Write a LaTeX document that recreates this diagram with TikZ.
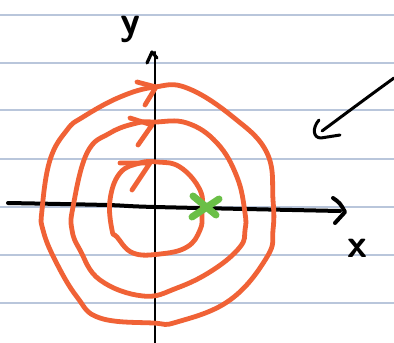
\documentclass[tikz,border=0pt]{standalone}
\begin{document}
\begin{tikzpicture}[x=1pt,y=-1pt,
  rule/.style={draw=ruleblue,line width=1.6pt},
  orbit/.style={draw=orbitred,line width=4.8pt,line cap=round,line join=round},
  ink/.style={draw=black,line cap=round,line join=round},
  lbl/.style={font=\fontsize{40}{40}\selectfont\bfseries\sffamily,inner sep=0pt,anchor=base}]
\definecolor{ruleblue}{HTML}{B9C6DB}
\definecolor{orbitred}{HTML}{F06236}
\definecolor{markgreen}{HTML}{6ABF47}
\fill[white] (0,0) rectangle (394,343);
\useasboundingbox (0,0) rectangle (394,343);
% ruled lines
\foreach \yy in {15,63,110,159,207,255,303} \draw[rule] (0,\yy) -- (394,\yy);
% axes
\draw[ink,line width=2.6pt] (155,343) -- (155,52);
\draw[ink,line width=3.2pt] (147,63) -- (152,52) -- (157,58);
\draw[ink,line width=4pt] plot[smooth,tension=0.5] coordinates {(8,203) (107,205) (155,207) (340,211)};
\draw[ink,line width=4pt] (333,198) .. controls (340,203) .. (345,212) .. controls (340,218) .. (335,223);
% orbits
\draw[orbit] plot[smooth cycle,tension=0.7] coordinates {(155,87) (187,88) (233,117) (267,153) (273,200) (273,230) (267,257) (230,300) (177,322) (153,323) (100,318) (77,297) (55,260) (43,230) (42,210) (50,160) (67,130) (83,117) (120,97)};
\draw[orbit] plot[smooth cycle,tension=0.7] coordinates {(155,122) (187,123) (217,143) (237,177) (245,213) (245,230) (240,247) (213,270) (177,288) (143,296) (100,280) (80,250) (72,230) (73,207) (87,153) (110,133) (137,123)};
\draw[orbit] plot[smooth cycle,tension=0.7] coordinates {(157,162) (180,167) (200,190) (202,213) (200,230) (187,247) (160,254) (133,253) (117,237) (112,230) (110,200) (120,173) (140,163)};
% arrowheads on orbits
\draw[orbit] (137,82) -- (156,87) -- (145,105);
\draw[orbit] (130,118) -- (152,125) -- (138,145);
\draw[orbit] (120,163) -- (150,163) -- (132,190);
% equilibrium mark
\draw[draw=markgreen,line width=7pt,line cap=round] (193,196) -- (216,215);
\draw[draw=markgreen,line width=7pt,line cap=round] (192,217) -- (219,199);
% pointer arrow
\draw[ink,line width=3pt] (394,78) .. controls (365,99) and (345,114) .. (322,131);
\draw[ink,line width=3pt] (319,120) .. controls (312,128) and (313,138) .. (321,138) -- (340,135);
% labels
\node[lbl] (ylab) at (130,34) {y};
\node[lbl] (xlab) at (357,257) {x};
\end{tikzpicture}
\end{document}
